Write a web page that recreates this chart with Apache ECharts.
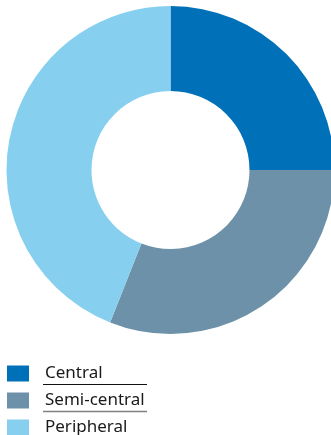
<!DOCTYPE html>
<html>
<head>
<meta charset="utf-8">
<script src="https://cdn.jsdelivr.net/npm/echarts@6/dist/echarts.min.js"></script>
<style>
  html, body { margin: 0; padding: 0; background: #fff; }
  #chart { width: 331px; height: 435px; }
</style>
</head>
<body>
<div id="chart"></div>
<script>
// Share of locations by type (%)
const categories = ['Central', 'Semi-central', 'Peripheral'];
const shares = [25, 31, 44];
const colors = ['#0070b8', '#6d91a8', '#87cfef'];

const chart = echarts.init(document.getElementById('chart'), null, { renderer: 'canvas' });

chart.setOption({
  animation: false,
  color: colors,
  legend: {
    orient: 'vertical',
    left: 7,
    top: 365,
    height: 120,
    itemWidth: 22,
    itemHeight: 16,
    itemGap: 10,
    icon: 'rect',
    selectedMode: false,
    padding: 0,
    textStyle: {
      fontFamily: 'Noto Sans',
      fontSize: 17,
      lineHeight: 17,
      color: '#1a1a1a',
      padding: [0, 0, 0, 11]
    },
    data: categories
  },
  graphic: [
    { type: 'line', shape: { x1: 43, y1: 384.5, x2: 147, y2: 384.5 }, style: { stroke: '#111', lineWidth: 1.2 } },
    { type: 'line', shape: { x1: 43, y1: 411.5, x2: 147, y2: 411.5 }, style: { stroke: '#808080', lineWidth: 1.6 } }
  ],
  series: [{
    type: 'pie',
    center: [170.5, 170],
    radius: [79, 164],
    startAngle: 90,
    clockwise: true,
    label: { show: false },
    labelLine: { show: false },
    emphasis: { disabled: true },
    itemStyle: { borderWidth: 0 },
    data: categories.map((name, i) => ({ name, value: shares[i] }))
  }]
});
</script>
</body>
</html>
